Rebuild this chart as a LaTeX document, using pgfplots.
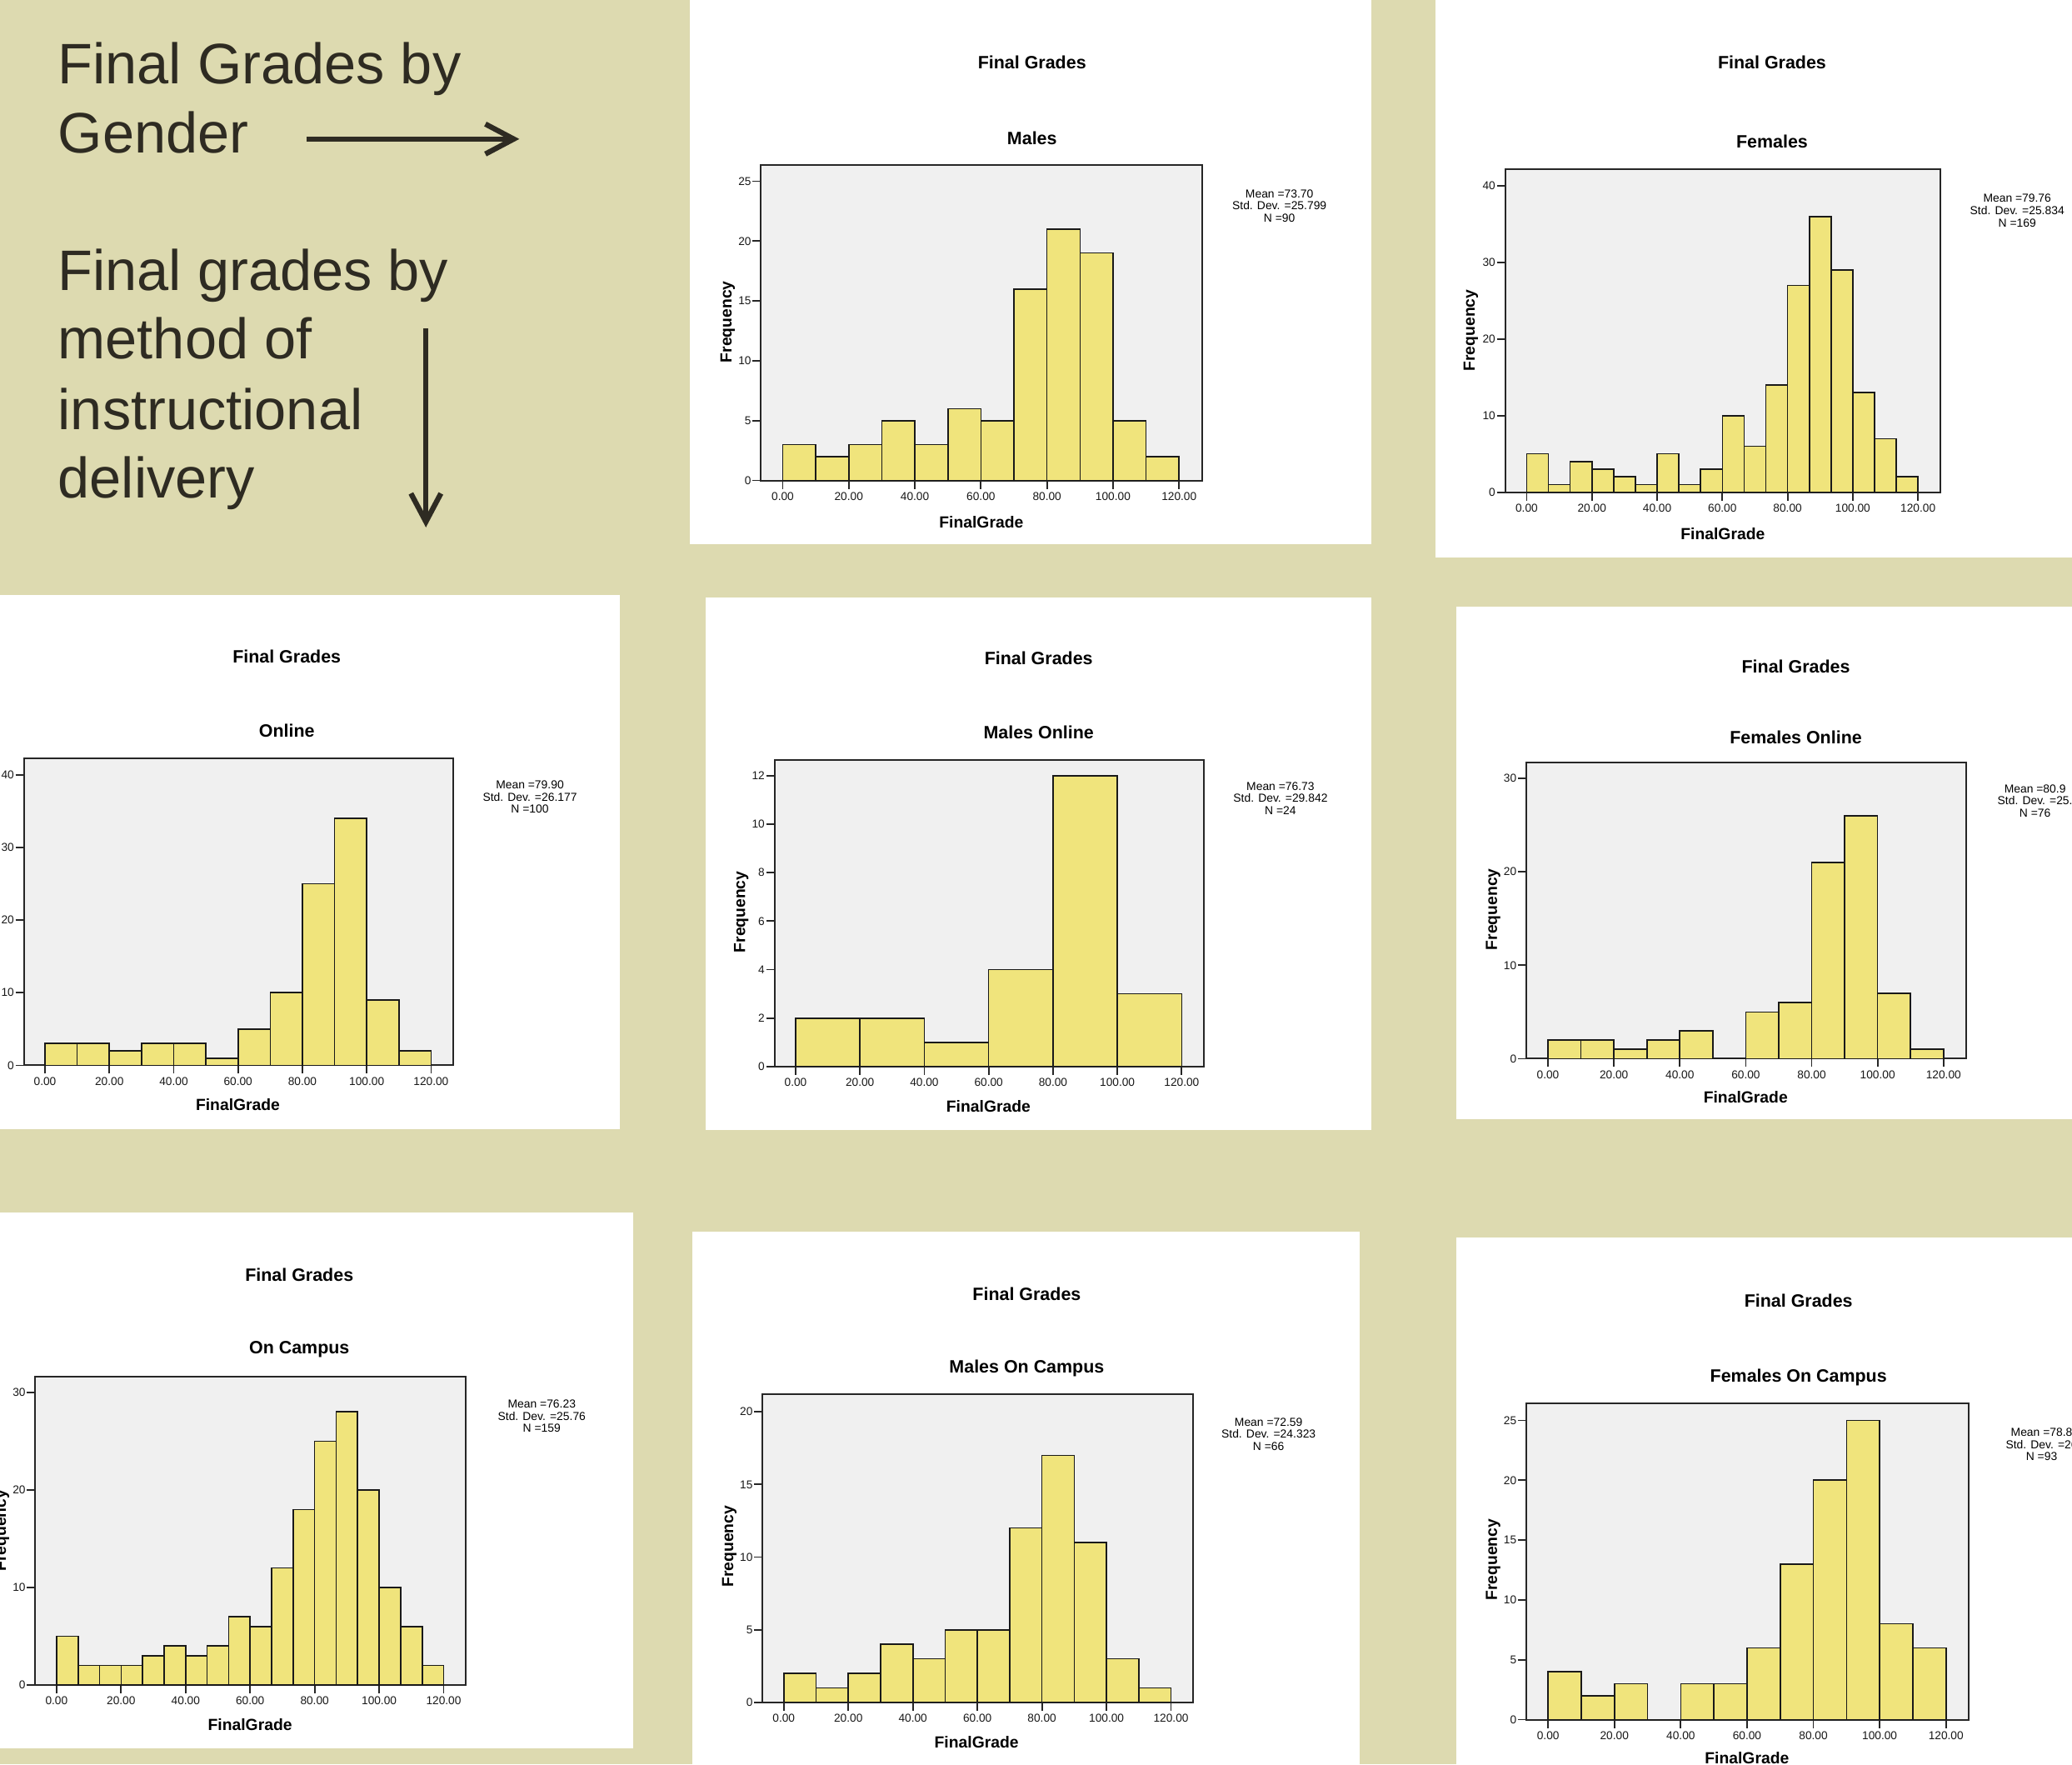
\documentclass[border=0pt]{standalone}
\usepackage{fontspec}
\setmainfont{Liberation Sans}
\usepackage{graphicx}
\usepackage{pgfplots}
\pgfplotsset{compat=1.18}
\usetikzlibrary{arrows.meta}
\definecolor{bgk}{HTML}{DDDAB0}
\definecolor{plotbg}{HTML}{F0F0F0}
\definecolor{barfill}{HTML}{F0E47C}
\definecolor{txt}{HTML}{2E2B22}
\newcommand\ttl{\fontsize{6.1}{7}\selectfont\bfseries}
\newcommand\alab{\fontsize{5.5}{6}\selectfont\bfseries}
\newcommand\stt{\fontsize{3.95}{4.15}\selectfont}
\newcommand\bigtxt{\fontsize{19.5}{23.6}\selectfont}
\pgfplotsset{
  spss/.style={
    scale only axis,
    anchor=south west,
    xmin=-6.6, xmax=126.9, ymin=0,
    axis background/.style={fill=plotbg},
    axis line style={draw=black!85, line width=0.2mm},
    tick style={draw=black!85, line width=0.18mm},
    major tick length=1.0mm,
    tick align=outside,
    xtick pos=left, ytick pos=left,
    xtick={0,20,...,120},
    xticklabel={\pgfmathprintnumber[fixed,fixed zerofill,precision=2,assume math mode=true]{\tick}},
    yticklabel={\pgfmathprintnumber[assume math mode=true]{\tick}},
    tick label style={font=\fontsize{3.9}{4.5}\selectfont, text=black!90},
    xticklabel style={inner sep=1pt},
    yticklabel style={inner sep=0.3pt},
  },
  hist/.style={ybar interval, fill=barfill, draw=black!90, line width=0.16mm},
}
\begin{document}
\begin{tikzpicture}
\path[use as bounding box] (0,0) rectangle (248.7mm,211.744mm);
\clip (0,0) rectangle (248.7mm,211.744mm);
\fill[bgk] (0,0) rectangle (248.7mm,211.744mm);

\begin{scope}[x=0.15861mm, y=-0.15861mm, shift={(0mm,211.744mm)}]
% ---- intro text ----
\begin{scope}[every node/.style={anchor=base west, inner sep=0, font=\bigtxt, text=txt}]
\node at (43.5,63.3) {Final Grades by};
\node at (43.5,115.6) {Gender};
\node at (43.5,219.9) {Final grades by};
\node at (43.5,271.7) {method of};
\node at (43.5,324.9) {instructional};
\node at (43.5,376.6) {delivery};
\end{scope}
\draw[txt, line width=0.63mm, -{Straight Barb[length=3.4mm, width=3.6mm]}] (232,105.2) -- (393,105.2);
\draw[txt, line width=0.63mm, -{Straight Barb[length=3.4mm, width=3.6mm]}] (322.3,248.7) -- (322.3,399);

% ---- white panels ----
\fill[white] (522,0) rectangle (1038,412);
\fill[white] (1086,0) rectangle (1568,422);
\fill[white] (0,450) rectangle (469,854);
\fill[white] (534,452) rectangle (1038,855);
\fill[white] (1102,459) rectangle (1568,847);
\fill[white] (0,917.5) rectangle (479.3,1323);
\fill[white] (524,932) rectangle (1029,1335);
\fill[white] (1102,936) rectangle (1568,1335);

% 1 Males
\node[font=\ttl] at (781,47.2) {Final Grades};
\node[font=\ttl] at (781,104.3) {Males};
\node[font=\alab] at (742.6,394.9) {FinalGrade};
\node[font=\alab, rotate=90] at (550.7,243.6) {Frequency};
\node[font=\stt, align=center, inner sep=0] at (968.2,155.8) {Mean =73.70\\Std. Dev. =25.799\\N =90};
% 2 Females
\node[font=\ttl] at (1341,47) {Final Grades};
\node[font=\ttl] at (1341,107) {Females};
\node[font=\alab] at (1303.7,404) {FinalGrade};
\node[font=\alab, rotate=90] at (1113,250) {Frequency};
\node[font=\stt, align=center, inner sep=0] at (1526.5,159.4) {Mean =79.76\\Std. Dev. =25.834\\N =169};
% 3 Online
\node[font=\ttl] at (217,497) {Final Grades};
\node[font=\ttl] at (217,553) {Online};
\node[font=\alab] at (180,836) {FinalGrade};
\node[font=\stt, align=center, inner sep=0] at (401,603) {Mean =79.90\\Std. Dev. =26.177\\N =100};
% 4 Males Online
\node[font=\ttl] at (786,498) {Final Grades};
\node[font=\ttl] at (786,554) {Males Online};
\node[font=\alab] at (748,837) {FinalGrade};
\node[font=\alab, rotate=90] at (561,690) {Frequency};
\node[font=\stt, align=center, inner sep=0] at (969,604) {Mean =76.73\\Std. Dev. =29.842\\N =24};
% 5 Females Online
\node[font=\ttl] at (1359,504) {Final Grades};
\node[font=\ttl] at (1359,558) {Females Online};
\node[font=\alab] at (1321,830) {FinalGrade};
\node[font=\alab, rotate=90] at (1130,688) {Frequency};
\node[font=\stt, align=center, inner sep=0] at (1540,606) {Mean =80.9\\Std. Dev. =25.\\N =76};
% 6 On Campus
\node[font=\ttl] at (226.5,964.5) {Final Grades};
\node[font=\ttl] at (226.5,1020.8) {On Campus};
\node[font=\alab] at (189.2,1305) {FinalGrade};
\node[font=\alab, rotate=90] at (1.6,1158) {Frequency};
\node[font=\stt, align=center, inner sep=0] at (410,1071.4) {Mean =76.23\\Std. Dev. =25.76\\N =159};
% 7 Males On Campus
\node[font=\ttl] at (777,979) {Final Grades};
\node[font=\ttl] at (777,1035) {Males On Campus};
\node[font=\alab] at (739,1318) {FinalGrade};
\node[font=\alab, rotate=90] at (552,1170) {Frequency};
\node[font=\stt, align=center, inner sep=0] at (960,1085) {Mean =72.59\\Std. Dev. =24.323\\N =66};
% 8 Females On Campus
\node[font=\ttl] at (1361,984) {Final Grades};
\node[font=\ttl] at (1361,1042) {Females On Campus};
\node[font=\alab] at (1322,1330) {FinalGrade};
\node[font=\alab, rotate=90] at (1130,1180) {Frequency};
\node[font=\stt, align=center, inner sep=0] at (1545,1093) {Mean =78.8\\Std. Dev. =26\\N =93};
\end{scope}

% ---- 1 Males ----
\begin{axis}[spss, at={(91.33mm,154.09mm)}, width=52.93mm, height=37.88mm, ymax=26.38, ytick={0,5,...,25}]
\addplot[hist] coordinates {(0,3)(10,2)(20,3)(30,5)(40,3)(50,6)(60,5)(70,16)(80,21)(90,19)(100,5)(110,2)(120,0)};
\end{axis}
% ---- 2 Females ----
\begin{axis}[spss, at={(180.66mm,152.68mm)}, width=52.26mm, height=38.76mm, ymax=42.2, ytick={0,10,...,40}]
\addplot[hist] coordinates {(0,5)(6.667,1)(13.333,4)(20,3)(26.667,2)(33.333,1)(40,5)(46.667,1)(53.333,3)(60,10)(66.667,6)(73.333,14)(80,27)(86.667,36)(93.333,29)(100,13)(106.667,7)(113.333,2)(120,0)};
\end{axis}
% ---- 3 Online ----
\begin{axis}[spss, at={(2.855mm,83.90mm)}, width=51.55mm, height=36.80mm, ymax=42.2, ytick={0,10,...,40}]
\addplot[hist] coordinates {(0,3)(10,3)(20,2)(30,3)(40,3)(50,1)(60,5)(70,10)(80,25)(90,34)(100,9)(110,2)(120,0)};
\end{axis}
% ---- 4 Males Online ----
\begin{axis}[spss, at={(92.95mm,83.75mm)}, width=51.55mm, height=36.80mm, ymax=12.65, ytick={0,2,...,12}]
\addplot[hist] coordinates {(0,2)(20,2)(40,1)(60,4)(80,12)(100,3)(120,0)};
\end{axis}
% ---- 5 Females Online ----
\begin{axis}[spss, at={(183.19mm,84.70mm)}, width=52.82mm, height=35.53mm, ymax=31.7, ytick={0,10,...,30}]
\addplot[hist] coordinates {(0,2)(10,2)(20,1)(30,2)(40,3)(50,0)(60,5)(70,6)(80,21)(90,26)(100,7)(110,1)(120,0)};
\end{axis}
% ---- 6 On Campus ----
\begin{axis}[spss, at={(4.235mm,9.532mm)}, width=51.69mm, height=37.00mm, ymax=31.6, ytick={0,10,...,30}]
\addplot[hist] coordinates {(0,5)(6.667,2)(13.333,2)(20,2)(26.667,3)(33.333,4)(40,3)(46.667,4)(53.333,7)(60,6)(66.667,12)(73.333,18)(80,25)(86.667,28)(93.333,20)(100,10)(106.667,6)(113.333,2)(120,0)};
\end{axis}
% ---- 7 Males On Campus ----
\begin{axis}[spss, at={(91.52mm,7.455mm)}, width=51.71mm, height=36.96mm, ymax=21.2, ytick={0,5,...,20}]
\addplot[hist] coordinates {(0,2)(10,1)(20,2)(30,4)(40,3)(50,5)(60,5)(70,12)(80,17)(90,11)(100,3)(110,1)(120,0)};
\end{axis}
% ---- 8 Females On Campus ----
\begin{axis}[spss, at={(183.19mm,5.393mm)}, width=53.13mm, height=37.91mm, ymax=26.4, ytick={0,5,...,25}]
\addplot[hist] coordinates {(0,4)(10,2)(20,3)(30,0)(40,3)(50,3)(60,6)(70,13)(80,20)(90,25)(100,8)(110,6)(120,0)};
\end{axis}
\end{tikzpicture}
\end{document}
